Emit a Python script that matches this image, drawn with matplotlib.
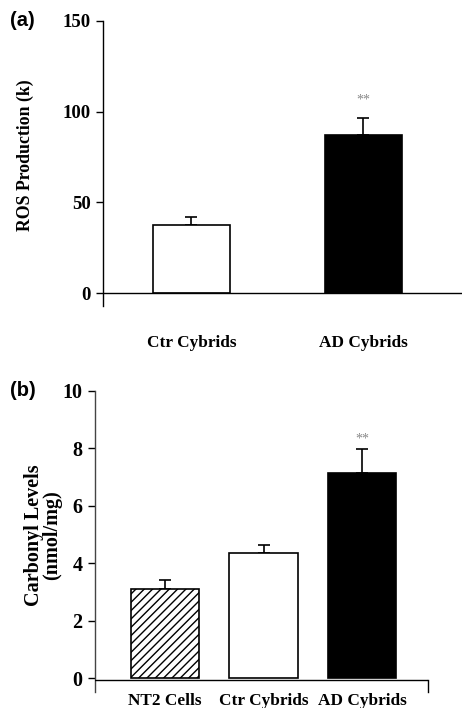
import matplotlib
matplotlib.use("Agg")
import matplotlib.pyplot as plt

# ---- data ----
cats_a = ["Ctr Cybrids", "AD Cybrids"]
vals_a = [37.6, 87.1]
errs_a = [4.3, 9.5]
yticks_a = [0, 50, 100, 150]

cats_b = ["NT2 Cells", "Ctr Cybrids", "AD Cybrids"]
vals_b = [3.12, 4.35, 7.15]
errs_b = [0.29, 0.29, 0.81]
yticks_b = [0, 2, 4, 6, 8, 10]

W, H = 462, 708
fig = plt.figure(figsize=(W / 100, H / 100), dpi=100)

serif = "Liberation Serif"
sans = "Liberation Sans"


def px_axes(x0, y0, x1, y1):
    return fig.add_axes([x0 / W, 1 - y1 / H, (x1 - x0) / W, (y1 - y0) / H])


def style(ax, yticks, fs):
    for s in ["top", "right", "bottom"]:
        ax.spines[s].set_visible(False)
    ax.spines["left"].set_linewidth(1.0)
    ax.set_yticks(yticks)
    ax.set_yticklabels([str(t) for t in yticks], fontfamily=serif,
                       fontweight="bold", fontsize=fs)
    ax.tick_params(axis="y", direction="out", length=5, width=1.0, pad=4)
    ax.tick_params(axis="x", length=0)
    ax.patch.set_alpha(0)


# ---- panel (a) ----
axa = px_axes(103, 20.7, 462, 306)
xa = list(range(len(cats_a)))
axa.bar(xa, vals_a, width=0.448, color=["white", "black"],
        edgecolor="black", linewidth=1.2, zorder=2)
axa.errorbar(xa, vals_a, yerr=[[0] * len(errs_a), errs_a], fmt="none",
             ecolor="black", elinewidth=1.2, capsize=4, capthick=1.2, zorder=1)
axa.axhline(0, color="black", linewidth=1.0, zorder=3)
axa.set_xlim(-0.5145, 1.5727)
axa.set_ylim(-7, 150)
style(axa, yticks_a, 13.5)
axa.set_xticks(xa)
axa.set_xticklabels(cats_a, fontfamily=serif, fontweight="bold", fontsize=12.4)
axa.tick_params(axis="x", pad=21)
axa.text(xa[1], vals_a[1] + errs_a[1] + 6, "**", ha="center", va="bottom",
         fontsize=10, color="#888888", fontfamily=serif)
fig.text(25 / W, 1 - 155 / H, "ROS Production (k)", rotation=90,
         ha="center", va="center", fontfamily=serif, fontweight="bold",
         fontsize=12.8)
fig.text(10 / W, 1 - 20 / H, "(a)", ha="left", va="center",
         fontfamily=sans, fontweight="bold", fontsize=14.5)

# ---- panel (b) ----
axb = px_axes(95, 390.7, 428, 691.7)
xb = list(range(len(cats_b)))
bars = axb.bar(xb, vals_b, width=0.695, color=["white", "white", "black"],
               edgecolor="black", linewidth=1.2, zorder=2)
bars[0].set_hatch("////")
axb.errorbar(xb, vals_b, yerr=[[0] * len(errs_b), errs_b], fmt="none",
             ecolor="black", elinewidth=1.2, capsize=4, capthick=1.2, zorder=1)
axb.axhline(-0.05, color="black", linewidth=1.0, zorder=3)
axb.set_xlim(-0.71, 2.667)
axb.set_ylim(-0.466, 10)
style(axb, yticks_b, 14.5)
axb.spines["left"].set_color("#444444")
axb.plot([1, 1], [0, 0.0445 - 0.005], transform=axb.transAxes, color="black",
         linewidth=1.0, clip_on=False)
axb.set_xticks(xb)
axb.set_xticklabels(cats_b, fontfamily=serif, fontweight="bold", fontsize=12.4)
axb.tick_params(axis="x", pad=1)
axb.text(xb[2], vals_b[2] + errs_b[2] + 0.12, "**", ha="center", va="bottom",
         fontsize=10, color="#888888", fontfamily=serif)
fig.text(43 / W, 1 - 535 / H, "Carbonyl Levels\n(nmol/mg)", rotation=90,
         ha="center", va="center", fontfamily=serif, fontweight="bold",
         fontsize=14.5, linespacing=0.9, multialignment="center")
fig.text(10 / W, 1 - 390 / H, "(b)", ha="left", va="center",
         fontfamily=sans, fontweight="bold", fontsize=14.5)

fig.savefig("out.png", dpi=100)
